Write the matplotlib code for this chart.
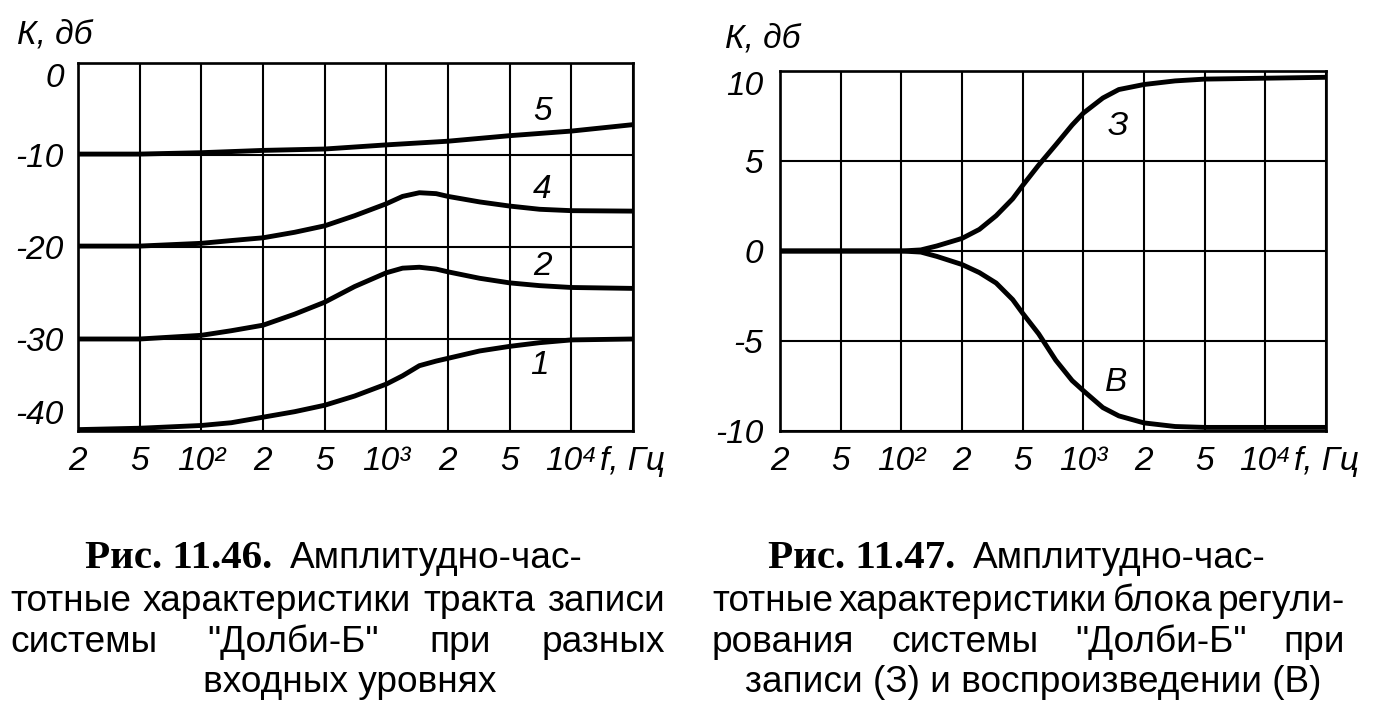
import numpy as np
import matplotlib
matplotlib.use('Agg')
import matplotlib.pyplot as plt

W, H = 1375, 725

# frequency axis, drawn with equal steps between the marked values
freq_ticks = [20, 50, 100, 200, 500, 1000, 2000, 5000, 10000, 20000]
freq_labels = ['2', '5', '10²', '2', '5', '10³', '2', '5', '10⁴', 'f, Гц']

# Рис. 11.46 - record path at different input levels
f5 = [20, 50, 100, 200, 500, 1000, 2000, 5000, 10000, 20000]
k5 = [-9.9, -9.9, -9.75, -9.5, -9.35, -8.9, -8.5, -7.9, -7.4, -6.7]
f46 = [20, 50, 100, 140, 200, 320, 500, 700, 1000, 1200, 1450, 1750, 2000,
       3200, 5000, 7000, 10000, 20000]
k4 = [-19.9, -19.9, -19.6, -19.3, -19.0, -18.4, -17.7, -16.6, -15.3, -14.5,
      -14.1, -14.2, -14.5, -15.1, -15.55, -15.9, -16.05, -16.1]
k2 = [-30.0, -30.0, -29.6, -29.1, -28.5, -27.3, -26.0, -24.3, -22.8, -22.3,
      -22.2, -22.4, -22.7, -23.4, -23.9, -24.2, -24.4, -24.5]
k1 = [-39.85, -39.7, -39.4, -39.1, -38.5, -37.9, -37.2, -36.2, -34.9, -34.0,
      -32.9, -32.4, -32.1, -31.3, -30.8, -30.4, -30.1, -30.0]
y46_ticks = [-40, -30, -20, -10, 0]
curves46 = [(f5, k5, '5', 7200, -5.3), (f46, k4, '4', 7200, -13.7),
            (f46, k2, '2', 7200, -22.1), (f46, k1, '1', 7000, -32.9)]

# Рис. 11.47 - record (З) and playback (В)
f47 = [20, 50, 100, 125, 150, 200, 260, 335, 430, 500, 600, 730, 880, 1000,
       1250, 1500, 2000, 3200, 5000, 10000, 20000]
kz = [0, 0, 0, 0.06, 0.28, 0.7, 1.2, 1.96, 2.9, 3.64, 4.77, 5.9, 7.0, 7.66,
      8.5, 8.97, 9.25, 9.45, 9.55, 9.6, 9.65]
kv = [0, 0, 0, -0.06, -0.3, -0.75, -1.2, -1.78, -2.7, -3.46, -4.6, -6.07,
      -7.2, -7.76, -8.7, -9.16, -9.55, -9.75, -9.8, -9.8, -9.8]
y47_ticks = [-10, -5, 0, 5, 10]
curves47 = [(f47, kz, 'З', 1480, 6.9), (f47, kv, 'В', 1460, -7.3)]

fam = ['Liberation Sans', 'DejaVu Sans']
tick_size = 24

lt = np.log10(freq_ticks)
idx = np.arange(len(freq_ticks))


def fwd(f):
    return np.interp(np.log10(np.clip(f, 1e-3, None)), lt, idx)


def inv(x):
    return 10 ** np.interp(x, idx, lt)


fig = plt.figure(figsize=(W / 100, H / 100), dpi=100)
fig.patch.set_facecolor('white')


def make_axes(box, yticks, curves, ypad):
    x0, y0, x1, y1 = box
    ax = fig.add_axes([x0 / W, 1 - y1 / H, (x1 - x0) / W, (y1 - y0) / H])
    ax.set_xscale('function', functions=(fwd, inv))
    ax.set_xlim(freq_ticks[0], freq_ticks[-1])
    ax.set_ylim(yticks[0], yticks[-1])
    ax.set_xticks(freq_ticks, labels=freq_labels)
    ax.set_yticks(yticks, labels=[str(v) for v in yticks])
    ax.minorticks_off()
    ax.grid(True, color='black', linewidth=1.5)
    for s in ax.spines.values():
        s.set_linewidth(1.9)
    ax.tick_params(length=0, labelsize=tick_size)
    ax.tick_params(axis='x', pad=11)
    ax.tick_params(axis='y', pad=ypad)
    for t in ax.get_xticklabels() + ax.get_yticklabels():
        t.set_fontstyle('italic')
        t.set_family(fam)
    for fx, fy, lab, lx, ly in curves:
        ax.plot(fx, fy, color='black', linewidth=3.5, solid_capstyle='butt',
                solid_joinstyle='round', zorder=3)
        ax.text(lx, ly, lab, ha='center', va='center', fontsize=tick_size,
                style='italic', family=fam)
    ax.get_yticklabels()[-1].set_va('top')
    return ax


ax1 = make_axes((78, 63, 633, 431), y46_ticks, curves46, 10)
ax1.get_yticklabels()[0].set_va('bottom')
ax2 = make_axes((780, 71, 1326, 431), y47_ticks, curves47, 12)

for x, y in [(17, 19), (725, 23)]:
    fig.text(x / W, 1 - y / H, 'К, дб', ha='left', va='top', fontsize=tick_size,
             style='italic', family=fam)

# captions
r = fig.canvas.get_renderer()


def width(t):
    return t.get_window_extent(r).width


def fit(s, target, **kw):
    probe = fig.text(0, 0, s, size=20, **kw)
    size = 20 * target / width(probe)
    probe.remove()
    return size


sans = dict(size=fit('тотные характеристики тракта записи', 648, family=fam), family=fam)
serif_kw = dict(family=['Liberation Serif', 'DejaVu Serif'], weight='bold')
serif = dict(size=fit('Рис. 11.46.', 188, **serif_kw), **serif_kw)


def place(parts, x, y, gap=18):
    for s, kw in parts:
        t = fig.text(x / W, 1 - y / H, s, ha='left', va='baseline', **kw)
        x += width(t) + gap


def justify(words, x0, x1, y):
    texts = [fig.text(0, 1 - y / H, w, ha='left', va='baseline', **sans) for w in words]
    ws = [width(t) for t in texts]
    gap = (x1 - x0 - sum(ws)) / (len(words) - 1)
    x = x0
    for t, w in zip(texts, ws):
        t.set_x(x / W)
        x += w + gap


def center(s, xc, y):
    fig.text(xc / W, 1 - y / H, s, ha='center', va='baseline', **sans)


base = [568, 611, 652, 692]
place([('Рис. 11.46.', serif), ('Амплитудно-час-', sans)], 85, base[0])
justify('тотные характеристики тракта записи'.split(), 10, 665, base[1])
justify('системы "Долби-Б" при разных'.split(), 10, 665, base[2])
center('входных уровнях', 350, base[3])

place([('Рис. 11.47.', serif), ('Амплитудно-час-', sans)], 768, base[0])
justify('тотные характеристики блока регули-'.split(), 712, 1345, base[1])
justify('рования системы "Долби-Б" при'.split(), 712, 1345, base[2])
center('записи (З) и воспроизведении (В)', 1033, base[3])

fig.savefig('out.png', dpi=100, facecolor='white')
